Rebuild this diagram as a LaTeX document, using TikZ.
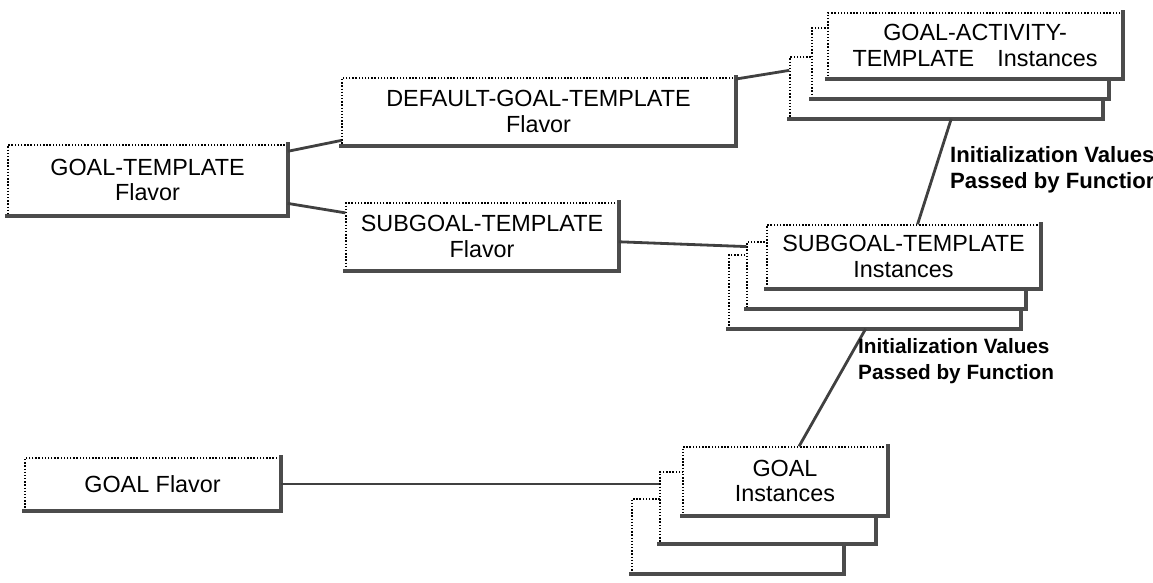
\documentclass[tikz,border=0pt]{standalone}
\usepackage{fontspec}
\setmainfont{Liberation Sans}
\usepackage{tikz}

\begin{document}
\begin{tikzpicture}[x=0.02cm,y=-0.02cm,
  font=\fontsize{13.3}{14.4}\selectfont,
  shadowline/.style={draw=black!70,line width=2.3pt,solid,line cap=rect},
  tbox/.style={draw=black,densely dotted,line width=0.8pt,fill=white,
    inner sep=0pt,align=center,
    append after command={(\tikzlastnode.north east) edge[shadowline] (\tikzlastnode.south east)
      (\tikzlastnode.south east) edge[shadowline] (\tikzlastnode.south west)}},
  link/.style={draw=black!75,line width=1.6pt},
  note/.style={font=\fontsize{11.8}{14.8}\selectfont\bfseries,align=left,anchor=west}]
\path[use as bounding box] (0,0) rectangle (1153,582);

\node[tbox,minimum width=5.58cm,minimum height=1.40cm] (gt) at (147.5,180)
{GOAL-TEMPLATE\\Flavor};
\node[tbox,minimum width=7.86cm,minimum height=1.34cm] (dgt) at (538.5,111.5)
{DEFAULT-GOAL-TEMPLATE\\Flavor};
\node[tbox,minimum width=5.44cm,minimum height=1.34cm] (sgt) at (482,236.5)
{SUBGOAL-TEMPLATE\\Flavor};
\node[tbox,minimum width=5.10cm,minimum height=1.04cm] (gf) at (152.5,484)
{GOAL Flavor};

\node[tbox,minimum width=6.24cm,minimum height=1.22cm] (gat3) at (946,87.5) {};
\node[tbox,minimum width=5.92cm,minimum height=1.40cm] (gat2) at (960,63) {};
\node[tbox,minimum width=5.88cm,minimum height=1.30cm] (gat) at (975,45.5)
{GOAL-ACTIVITY-\\TEMPLATE\quad Instances};

\node[tbox,minimum width=5.82cm,minimum height=1.46cm] (sti3) at (874.5,291.5) {};
\node[tbox,minimum width=5.56cm,minimum height=1.32cm] (sti2) at (886,275) {};
\node[tbox,minimum width=5.46cm,minimum height=1.26cm] (sti) at (903.5,256.5)
{SUBGOAL-TEMPLATE\\Instances};

\node[tbox,minimum width=4.22cm,minimum height=1.48cm] (gi3) at (737.5,536) {};
\node[tbox,minimum width=4.30cm,minimum height=1.42cm] (gi2) at (767.5,507.5) {};
\node[tbox,minimum width=4.08cm,minimum height=1.36cm] (gi) at (785,481)
{GOAL\\Instances};

\path[link] ([yshift=-4pt]gt.north east) -- ([yshift=3pt]dgt.south west);
\path[link] ([yshift=7pt]gt.south east) -- ([yshift=-6pt]sgt.north west);
\path[link] ([yshift=-1pt]dgt.north east) -- ([yshift=-8pt]gat3.north west);
\path[link] ([yshift=-3pt]sgt.east) -- ([yshift=-3pt]sti2.north west);
\path[link] (gf.east) -- (gf.east -| gi2.west);
\path[link] ([xshift=3pt]gat3.south) -- ([xshift=8pt]sti.north);
\path[link] ([xshift=-5pt]sti3.south) -- ([xshift=8pt]gi.north);

\node[note,font=\fontsize{12.6}{14.8}\selectfont\bfseries] (init1) at (944,170)
{Initialization Values\\Passed by Function};
\node[note] (init2) at (852,361) {Initialization Values\\Passed by Function};
\end{tikzpicture}
\end{document}
